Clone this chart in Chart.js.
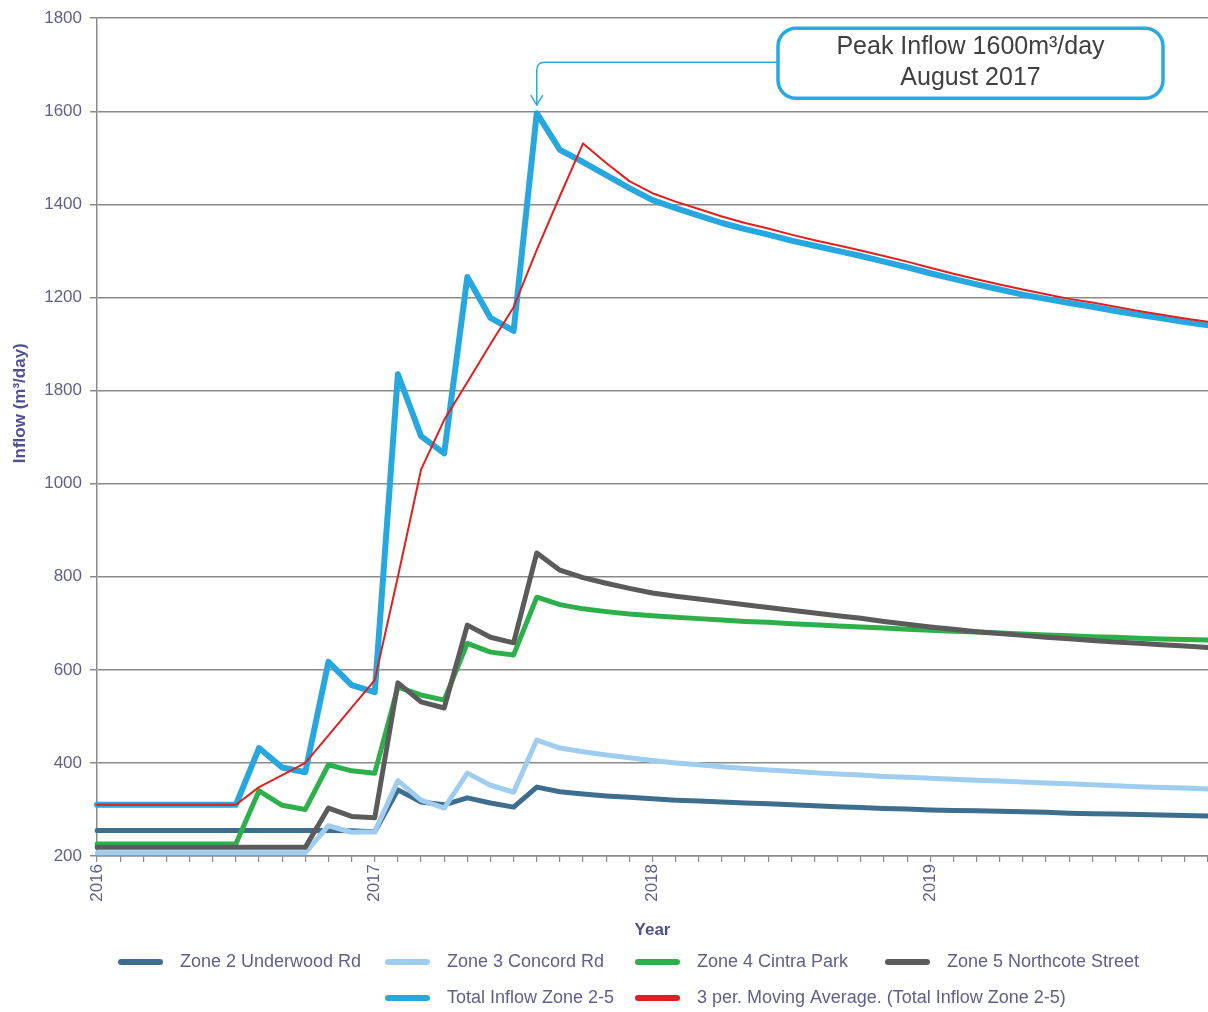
<!DOCTYPE html>
<html>
<head>
<meta charset="utf-8">
<title>Inflow Zone 2-5</title>
<script src="https://cdn.jsdelivr.net/npm/chart.js@4.4.0/dist/chart.umd.min.js"></script>
<style>
  html, body { margin: 0; padding: 0; background: #fff; overflow: hidden; }
  #wrap { width: 1208px; height: 1012px; }
</style>
</head>
<body>
<div id="wrap"><canvas id="inflow-chart"></canvas></div>
<script>
// monthly readings, Jan 2016 .. Jan 2020 (values in plotted axis units)
const months = [];
for (let y = 2016; y <= 2020; y++) {
  for (let m = 1; m <= 12; m++) {
    if (y === 2020 && m > 1) break;
    months.push(y + "-" + String(m).padStart(2, "0"));
  }
}

// y tick labels exactly as printed on the source chart (bottom to top)
const yTickLabels = ["200", "400", "600", "800", "1000", "1800", "1200", "1400", "1600", "1800"];

const zone2 = [255, 255, 255, 255, 255, 255, 255, 255, 255, 255, 255, 254, 252,
  342, 316, 310, 325, 314, 305, 348, 338, 333, 329, 326,
  323, 320, 318, 316, 314, 312, 310, 308, 306, 304, 302, 301,
  299, 298, 297, 296, 295, 294, 292, 291, 290, 289, 288, 287, 286];

const zone3 = [207, 207, 207, 207, 207, 207, 207, 207, 207, 207, 265, 251, 252,
  362, 320, 303, 378, 352, 337, 449, 432, 424, 417, 411,
  405, 400, 396, 392, 388, 385, 382, 379, 376, 374, 371, 369,
  367, 365, 363, 361, 359, 357, 355, 353, 351, 349, 347, 346, 344];

const zone4 = [226, 226, 226, 226, 226, 226, 226, 340, 309, 300, 396, 383, 378,
  563, 546, 535, 657, 638, 632, 756, 740, 731, 725, 720,
  716, 713, 710, 707, 704, 702, 699, 697, 694, 692, 690, 687,
  685, 683, 681, 679, 677, 675, 673, 671, 670, 668, 666, 665, 664];

const zone5 = [219, 219, 219, 219, 219, 219, 219, 219, 219, 219, 303, 285, 282,
  572, 531, 518, 696, 670, 658, 851, 814, 798, 786, 775,
  765, 758, 752, 746, 740, 734, 728, 722, 716, 711, 704, 698,
  692, 687, 682, 678, 674, 670, 667, 663, 660, 657, 654, 651, 648];

const totalInflow = [310, 310, 310, 310, 310, 310, 310, 432, 390, 380, 617, 567, 552,
  1235, 1102, 1065, 1444, 1356, 1328, 1796, 1717, 1691, 1663, 1635,
  1609, 1592, 1576, 1560, 1547, 1535, 1522, 1511, 1500, 1489, 1477, 1465,
  1452, 1440, 1428, 1417, 1406, 1397, 1388, 1380, 1371, 1363, 1355, 1347, 1340];

const movingAvg = [310, 310, 310, 310, 310, 310, 310, 348, 374, 400, 459, 519, 578,
  800, 1030, 1137, 1218, 1300, 1379, 1502, 1618, 1731, 1689, 1650,
  1624, 1606, 1590, 1574, 1560, 1548, 1535, 1523, 1512, 1501, 1489, 1477,
  1464, 1451, 1439, 1428, 1417, 1407, 1397, 1389, 1380, 1371, 1363, 1355, 1348];

const seriesNames = [
  "Zone 2 Underwood Rd",
  "Zone 3 Concord Rd",
  "Zone 4 Cintra Park",
  "Zone 5 Northcote Street",
  "Total Inflow Zone 2-5",
  "3 per. Moving Average. (Total Inflow Zone 2-5)"
];

const tickColor = "#5f5f8c";
const titleColor = "#4f4f94";
const gridColor = "#8a8a8a";
const fontFamily = "'Liberation Sans', Arial, sans-serif";

Chart.defaults.font.family = fontFamily;
Chart.defaults.font.size = 17;

function line(label, data, color, width, order) {
  return {
    label: label,
    data: data,
    borderColor: color,
    backgroundColor: color,
    borderWidth: width,
    pointRadius: 0,
    pointHoverRadius: 0,
    tension: 0,
    borderJoinStyle: "round",
    borderCapStyle: "round",
    fill: false,
    order: order
  };
}

// callout box + arrow pointing at the peak of the total inflow line
const peakCallout = {
  id: "peakCallout",
  afterDatasetsDraw(chart) {
    const { ctx, chartArea } = chart;
    const peakIdx = totalInflow.indexOf(Math.max(...totalInflow));
    const pt = chart.getDatasetMeta(4).data[peakIdx];
    const boxW = 385, boxH = 70;
    const boxX = chartArea.right - 45 - boxW;
    const boxY = chartArea.top + 10;
    const lineY = boxY + 34;

    ctx.save();
    ctx.strokeStyle = "#29a9e1";
    ctx.lineWidth = 1.5;
    ctx.beginPath();
    ctx.moveTo(boxX, lineY);
    ctx.lineTo(pt.x + 8, lineY);
    ctx.quadraticCurveTo(pt.x, lineY, pt.x, lineY + 8);
    ctx.lineTo(pt.x, pt.y - 8);
    ctx.stroke();
    ctx.beginPath();
    ctx.moveTo(pt.x - 6, pt.y - 18);
    ctx.lineTo(pt.x, pt.y - 8);
    ctx.lineTo(pt.x + 6, pt.y - 18);
    ctx.stroke();

    ctx.lineWidth = 3.5;
    ctx.fillStyle = "#fff";
    ctx.beginPath();
    ctx.roundRect(boxX, boxY, boxW, boxH, 18);
    ctx.fill();
    ctx.stroke();

    ctx.fillStyle = "#404040";
    ctx.font = "25px " + fontFamily;
    ctx.textAlign = "center";
    ctx.textBaseline = "middle";
    ctx.fillText("Peak Inflow 1600m\u00b3/day", boxX + boxW / 2, boxY + 19);
    ctx.fillText("August 2017", boxX + boxW / 2, boxY + 50);
    ctx.restore();
  }
};

// y title sits a little above the middle of the axis, and the legend is laid
// out on a column grid (second row starts under the second column)
const sideTexts = {
  id: "sideTexts",
  afterDraw(chart) {
    const { ctx, chartArea } = chart;
    ctx.save();
    ctx.fillStyle = titleColor;
    ctx.font = "bold 17px " + fontFamily;
    ctx.textAlign = "center";
    ctx.textBaseline = "middle";
    ctx.translate(20, chartArea.top + 385);
    ctx.rotate(-Math.PI / 2);
    ctx.fillText("Inflow (m\u00b3/day)", 0, 0);
    ctx.restore();

    const rows = [[0, 1, 2, 3], [4, 5]];
    const colX = [118, 385, 635, 885];
    const rowY = [962, 998];
    ctx.save();
    ctx.font = "18px " + fontFamily;
    ctx.textBaseline = "middle";
    ctx.textAlign = "left";
    rows.forEach((row, r) => {
      row.forEach((dsIndex, c) => {
        const ds = chart.data.datasets[dsIndex];
        const x = colX[c + r];
        const y = rowY[r];
        ctx.fillStyle = ds.borderColor;
        ctx.beginPath();
        ctx.roundRect(x, y - 3, 45, 6, 3);
        ctx.fill();
        ctx.fillStyle = tickColor;
        ctx.fillText(ds.label, x + 62, y);
      });
    });
    ctx.restore();
  }
};

new Chart(document.getElementById("inflow-chart"), {
  type: "line",
  data: {
    labels: months,
    datasets: [
      line(seriesNames[0], zone2, "#3e6e8e", 5, 6),
      line(seriesNames[1], zone3, "#9fcdef", 5, 5),
      line(seriesNames[2], zone4, "#2db04a", 5, 4),
      line(seriesNames[3], zone5, "#5b5b5b", 5, 3),
      line(seriesNames[4], totalInflow, "#27a7df", 6, 2),
      line(seriesNames[5], movingAvg, "#e0201f", 2, 1)
    ]
  },
  options: {
    responsive: true,
    maintainAspectRatio: false,
    animation: false,
    layout: { padding: { top: 18, right: 0, left: 0, bottom: 77 } },
    plugins: {
      tooltip: { enabled: false },
      legend: { display: false }
    },
    scales: {
      x: {
        type: "category",
        offset: false,
        border: { color: gridColor, width: 1.5 },
        grid: { drawOnChartArea: false, drawTicks: true, tickLength: 6, color: gridColor, lineWidth: 1.2 },
        ticks: {
          autoSkip: false,
          minRotation: 90,
          maxRotation: 90,
          padding: 2,
          color: tickColor,
          callback: function (value, index) {
            const label = months[index];
            return label.endsWith("-01") && !label.startsWith("2020") ? label.slice(0, 4) : "";
          }
        },
        title: {
          display: true,
          text: "Year",
          color: titleColor,
          font: { weight: "bold", size: 17 },
          padding: { top: 0, bottom: -6 }
        },
        afterFit: (scale) => {
          scale.height = 79;
          scale.paddingLeft = 0;
          scale.paddingRight = 0;
        }
      },
      y: {
        min: 200,
        max: 2000,
        border: { color: gridColor, width: 1.5 },
        grid: { color: gridColor, lineWidth: 1.5, drawTicks: true, tickLength: 7 },
        ticks: {
          stepSize: 200,
          padding: 8,
          color: tickColor,
          callback: (value) => yTickLabels[Math.round((value - 200) / 200)]
        },
        title: { display: false },
        afterFit: (scale) => { scale.width = 97; }
      }
    }
  },
  plugins: [peakCallout, sideTexts]
});
</script>
</body>
</html>
